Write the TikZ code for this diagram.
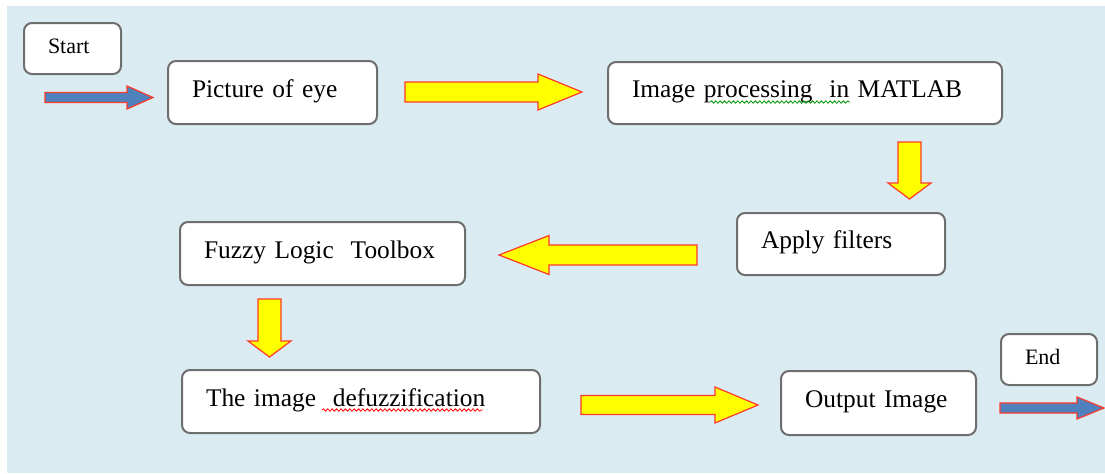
\documentclass[tikz,border=0pt]{standalone}
\usepackage{fontspec}
\setmainfont{Liberation Serif}
\usetikzlibrary{calc,decorations.pathmorphing}

\definecolor{bgblue}{HTML}{DAECF2}
\definecolor{boxgray}{HTML}{6E6E6E}
\definecolor{arrowred}{HTML}{FF3A2A}
\definecolor{arrowyellow}{HTML}{FFFF00}
\definecolor{arrowblue}{HTML}{4F81BD}

\tikzset{
  flowbox/.style={draw=boxgray, line width=1pt, fill=white, rounded corners=4pt,
    inner xsep=12pt, inner ysep=0pt, align=left, text height=8pt, text depth=3.5pt,
    minimum height=31.5pt, font=\fontsize{12.7}{15}\selectfont},
  endbox/.style={flowbox, minimum height=25.5pt, font=\fontsize{11}{13}\selectfont},
  % half shaft / half head / head length
  blockarrow/.style n args={3}{line width=0.6pt, line join=miter,
    to path={
      ($(\tikztostart)!#1!90:(\tikztotarget)$)
      -- ($(\tikztotarget)!#3!(\tikztostart)!#1!-90:(\tikztostart)$)
      -- ($(\tikztotarget)!#3!(\tikztostart)!#2!-90:(\tikztostart)$)
      -- (\tikztotarget)
      -- ($(\tikztotarget)!#3!(\tikztostart)!#2!90:(\tikztostart)$)
      -- ($(\tikztotarget)!#3!(\tikztostart)!#1!90:(\tikztostart)$)
      -- ($(\tikztostart)!#1!-90:(\tikztotarget)$) -- cycle}},
  yarrow/.style={draw=arrowred, fill=arrowyellow},
  barrow/.style={draw=arrowred, fill=arrowblue},
  spell/.style={line width=0.4pt, decorate,
    decoration={snake, amplitude=0.6pt, segment length=2.2pt}}
}

\begin{document}
\begin{tikzpicture}[x=0.5pt, y=-0.5pt]
\useasboundingbox (0,0) rectangle (1105,473);
\fill[white] (0,0) rectangle (1105,473);
\fill[bgblue] (7,6) rectangle (1105,473);

% boxes
\node[endbox, text width=24.5pt] (start) at (72.5,48.5) {Start};
\node[flowbox, text width=80.5pt] (eye) at (272.5,92.5) {Picture of eye};
\node[flowbox, text width=173pt, minimum height=31pt] (matlab) at (805,93) {Image processing\ \ in MATLAB};
\node[flowbox, text width=80pt, minimum height=31pt] (filters) at (841,244) {Apply filters};
\node[flowbox, text width=118.5pt] (fuzzy) at (322.5,253.5) {Fuzzy Logic\ \ Toolbox};
\node[flowbox, text width=155pt] (defuzz) at (361,401.5) {The image\ \ defuzzification};
\node[flowbox, text width=73.5pt, minimum height=32pt] (output) at (878.5,403) {Output Image};
\node[endbox, text width=24pt] (end) at (1049,359.5) {End};

% arrow ends
\coordinate (a0s) at (45,97.5);   \coordinate (a0e) at (153,97.5);
\coordinate (a1s) at (405,92);    \coordinate (a1e) at (582,92);
\coordinate (a2s) at (909.5,142); \coordinate (a2e) at (909.5,199);
\coordinate (a3s) at (697,255);   \coordinate (a3e) at (499,255);
\coordinate (a4s) at (269.5,299); \coordinate (a4e) at (269.5,357);
\coordinate (a5s) at (581,405);   \coordinate (a5e) at (758,405);
\coordinate (a6s) at (1000,408);  \coordinate (a6e) at (1104,408);

% block arrows
\draw[barrow, blockarrow={2.5pt}{5.75pt}{13pt}] (a0s) to (a0e);
\draw[yarrow, blockarrow={5pt}{9pt}{22pt}] (a1s) to (a1e);
\draw[yarrow, blockarrow={5.75pt}{10.75pt}{8pt}] (a2s) to (a2e);
\draw[yarrow, blockarrow={5pt}{9.75pt}{25pt}] (a3s) to (a3e);
\draw[yarrow, blockarrow={5.75pt}{10.75pt}{8pt}] (a4s) to (a4e);
\draw[yarrow, blockarrow={4.75pt}{9pt}{21.5pt}] (a5s) to (a5e);
\draw[barrow, blockarrow={2.5pt}{5.5pt}{13.5pt}] (a6s) to (a6e);

% spell check marks
\draw[spell, green!60!black] (710,102) -- (850,102);
\draw[spell, red] (322,410) -- (483,410);
\end{tikzpicture}
\end{document}
